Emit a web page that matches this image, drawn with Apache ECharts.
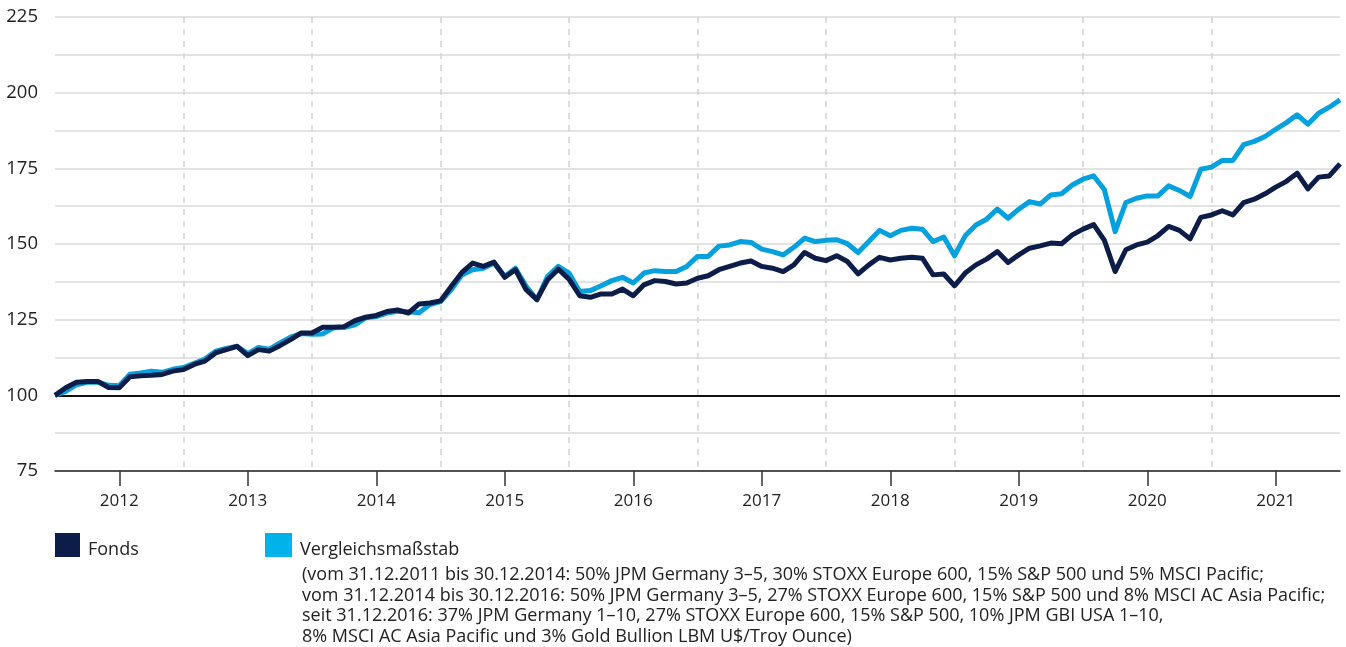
<!DOCTYPE html>
<html>
<head>
<meta charset="utf-8">
<script src="https://cdn.jsdelivr.net/npm/echarts@6/dist/echarts.min.js"></script>
<style>
html,body{margin:0;padding:0;background:#fff;}
#chart{width:1346px;height:647px;}
</style>
</head>
<body>
<div id="chart"></div>
<script>
// Monthly values, end of Dec 2011 (index 0) to end of Dec 2021 (index 120)
const fonds = [
  100.0, 102.5, 104.3, 104.6, 104.6, 102.6, 102.5, 106.1, 106.5, 106.6, 106.9, 108.0,
  108.5, 110.2, 111.3, 114.0, 115.1, 116.2, 113.1, 115.1, 114.6, 116.4, 118.4, 120.6,
  120.6, 122.5, 122.5, 122.7, 124.7, 125.8, 126.4, 127.7, 128.2, 127.2, 130.2, 130.5,
  131.2, 136.0, 140.6, 143.7, 142.6, 144.0, 139.0, 141.5, 134.9, 131.6, 138.2, 141.7,
  138.4, 132.9, 132.4, 133.5, 133.5, 135.1, 132.9, 136.5, 137.9, 137.6, 136.8, 137.1,
  138.7, 139.5, 141.5, 142.6, 143.7, 144.4, 142.6, 142.0, 140.9, 143.1, 147.2, 145.3,
  144.5, 146.1, 144.2, 140.1, 143.1, 145.6, 144.7, 145.3, 145.6, 145.3, 139.8, 140.1,
  136.2, 140.4, 143.1, 145.0, 147.5, 143.9, 146.4, 148.6, 149.4, 150.3, 150.1, 153.0,
  154.9, 156.4, 151.2, 140.9, 148.1, 149.7, 150.6, 152.8, 155.8, 154.5, 151.7, 158.8,
  159.6, 161.0, 159.6, 163.7, 164.8, 166.6, 168.8, 170.7, 173.4, 168.2, 172.1, 172.5,
  176.5
];
const benchmark = [
  100.0, 101.3, 103.5, 104.3, 104.4, 103.3, 103.2, 107.0, 107.4, 108.0, 107.6, 108.6,
  109.2, 110.6, 112.0, 114.6, 115.5, 116.2, 113.8, 115.8, 115.2, 117.3, 119.2, 120.4,
  120.2, 120.3, 122.3, 122.4, 123.3, 125.6, 126.0, 127.2, 127.8, 127.6, 127.3, 130.0,
  131.0, 134.9, 139.8, 141.5, 142.0, 143.7, 139.3, 142.0, 136.0, 131.6, 139.3, 142.6,
  140.4, 134.3, 134.6, 136.2, 137.9, 139.0, 137.1, 140.4, 141.2, 140.9, 140.9, 142.6,
  145.9, 145.9, 149.3, 149.7, 150.8, 150.5, 148.3, 147.5, 146.4, 148.9, 151.9, 150.8,
  151.2, 151.4, 150.1, 147.2, 150.8, 154.5, 152.7, 154.5, 155.2, 154.9, 150.8, 152.3,
  146.1, 152.7, 156.3, 158.2, 161.5, 158.5, 161.5, 164.0, 163.2, 166.2, 166.6, 169.5,
  171.4, 172.5, 167.9, 154.1, 163.7, 165.1, 165.9, 165.9, 169.2, 167.7, 165.7, 174.7,
  175.4, 177.6, 177.6, 182.8, 183.9, 185.5, 187.9, 190.1, 192.7, 189.6, 193.2, 195.2,
  197.6
];
const startYear = 2011;
const months = [];
for (let i = 0; i < fonds.length; i++) {
  const m = 11 + i; // December 2011 = month index 11
  const y = startYear + Math.floor(m / 12);
  const mm = (m % 12) + 1;
  months.push(y + '-' + (mm < 10 ? '0' + mm : mm));
}
const yTickLabels = [75, 100, 125, 150, 175, 200, 225];
const seriesNames = ['Fonds', 'Vergleichsmaßstab'];
const benchmarkNote = [
  '(vom 31.12.2011 bis 30.12.2014: 50% JPM Germany 3–5, 30% STOXX Europe 600, 15% S&P 500 und 5% MSCI Pacific;',
  'vom 31.12.2014 bis 30.12.2016: 50% JPM Germany 3–5, 27% STOXX Europe 600, 15% S&P 500 und 8% MSCI AC Asia Pacific;',
  'seit 31.12.2016: 37% JPM Germany 1–10, 27% STOXX Europe 600, 15% S&P 500, 10% JPM GBI USA 1–10,',
  '8% MSCI AC Asia Pacific und 3% Gold Bullion LBM U$/Troy Ounce)'
];

const FONT = '"Open Sans", "DejaVu Sans", sans-serif';
const DARK = '#0d1d4a';
const LIGHT = '#05a0de';

const legendText = {
  fontFamily: FONT, fontSize: 18, color: '#222',
  rich: {t: {fontFamily: FONT, fontSize: 18, color: '#222', padding: [9, 0, 0, 3]}}
};

const chart = echarts.init(document.getElementById('chart'), null, {renderer: 'canvas'});
chart.setOption({
  animation: false,
  backgroundColor: '#ffffff',
  textStyle: {fontFamily: FONT},
  grid: {left: 55, right: 6, top: 17, bottom: 176, containLabel: false},
  legend: [
    {
      data: [seriesNames[0]], left: 50, top: 528, icon: 'rect',
      itemWidth: 25, itemHeight: 24,
      formatter: function (n) { return '{t|' + n + '}'; },
      textStyle: legendText
    },
    {
      data: [seriesNames[1]], left: 260, top: 528, icon: 'rect',
      itemWidth: 27, itemHeight: 24,
      formatter: function (n) { return '{t|' + n + '}'; },
      textStyle: legendText
    }
  ],
  xAxis: {
    type: 'category',
    data: months,
    boundaryGap: false,
    axisLine: {show: true, lineStyle: {color: '#222', width: 1.5}},
    axisTick: {
      show: true, length: 15, lineStyle: {color: '#333', width: 1.5},
      interval: function (idx) { return idx % 12 === 6; }
    },
    axisLabel: {
      interval: function (idx) { return idx % 12 === 6; },
      formatter: function (v) { return v.slice(0, 4); },
      color: '#222', fontSize: 17, fontFamily: FONT, margin: 22
    },
    splitLine: {
      show: true,
      interval: function (idx) { return idx % 12 === 0 && idx > 0 && idx < months.length - 1; },
      lineStyle: {color: '#d4d4d4', width: 1.5, type: [6, 6]}
    }
  },
  yAxis: {
    type: 'value',
    min: 75, max: 225, interval: 12.5,
    axisLine: {show: false},
    axisTick: {show: false},
    axisLabel: {
      formatter: function (v) { return yTickLabels.indexOf(v) >= 0 ? String(v) : ''; },
      color: '#222', fontSize: 18.5, fontFamily: FONT, margin: 17
    },
    splitLine: {show: true, lineStyle: {color: '#dadada', width: 1.5}}
  },
  series: [
    {
      name: seriesNames[1], type: 'line', data: benchmark,
      symbol: 'none', smooth: false, z: 3,
      lineStyle: {color: LIGHT, width: 5, join: 'round'},
      itemStyle: {color: '#00b2ea'}
    },
    {
      name: seriesNames[0], type: 'line', data: fonds,
      symbol: 'none', smooth: false, z: 4,
      lineStyle: {color: DARK, width: 5, join: 'round'},
      itemStyle: {color: DARK},
      markLine: {
        silent: true, symbol: 'none', z: 2,
        label: {show: false},
        lineStyle: {color: '#111', width: 2, type: 'solid'},
        data: [{yAxis: 100}]
      }
    }
  ],
  graphic: [{
    type: 'text', left: 302, top: 565,
    style: {
      text: benchmarkNote.join('\n'),
      font: '18px ' + FONT, fill: '#222', lineHeight: 20.5
    }
  }]
});
</script>
</body>
</html>
